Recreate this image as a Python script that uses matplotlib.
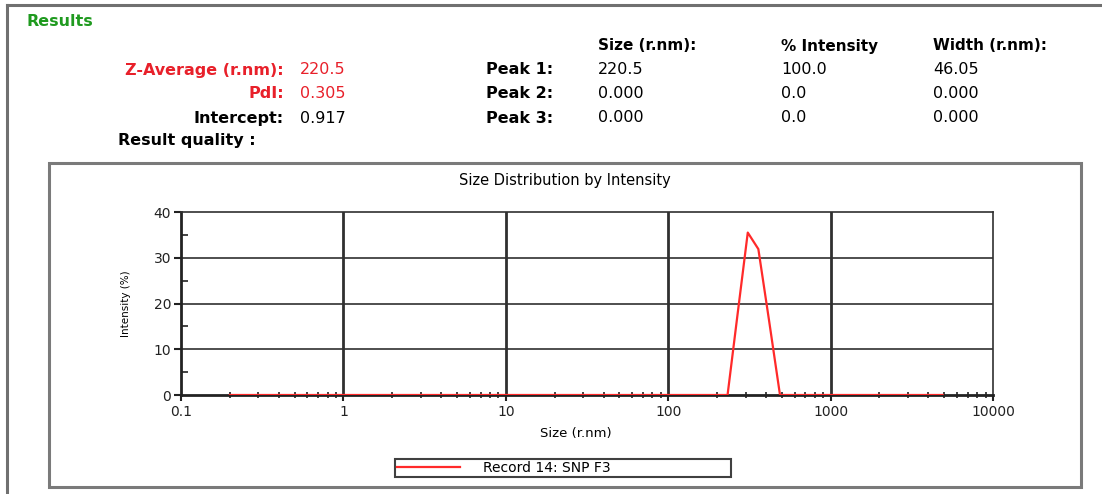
import matplotlib
matplotlib.use('Agg')
import matplotlib.pyplot as plt
from matplotlib.patches import Rectangle
from matplotlib.lines import Line2D
from matplotlib.ticker import FixedLocator, FixedFormatter, NullFormatter

# values
size_nm = [0.2, 232, 266, 309, 359, 417, 488, 4900]
intensity = [0.0, 0.0, 17.0, 35.5, 31.9, 16.5, 0.0, 0.0]

x_ticks = [0.1, 1, 10, 100, 1000, 10000]
x_tick_labels = ['0.1', '1', '10', '100', '1000', '10000']
y_ticks = [0, 10, 20, 30, 40]

left_labels = ['Z-Average (r.nm):', 'PdI:', 'Intercept:']
left_values = ['220.5', '0.305', '0.917']
peak_labels = ['Peak 1:', 'Peak 2:', 'Peak 3:']
peak_size = ['220.5', '0.000', '0.000']
peak_intensity = ['100.0', '0.0', '0.0']
peak_width = ['46.05', '0.000', '0.000']
column_headers = ['Size (r.nm):', '% Intensity', 'Width (r.nm):']

W, H = 1102, 494
RED = '#e8202a'
GREEN = '#1f9a1f'

plt.rcParams['font.family'] = ['DejaVu Sans']

fig = plt.figure(figsize=(W / 100, H / 100), dpi=100)
fig.patch.set_facecolor('white')


def fx(px):
    return px / W


def fy(py):
    return 1 - py / H


# outer frame (only left and top edges visible)
fig.add_artist(Line2D([fx(7), fx(7)], [fy(5), fy(494)], color='#707070', lw=2.2))
fig.add_artist(Line2D([fx(7), fx(1102)], [fy(5), fy(5)], color='#707070', lw=2.2))

# header block
fig.text(fx(27), fy(21), 'Results', color=GREEN, fontsize=11.5, fontweight='bold', va='center')

rows_y = [70, 94, 118]
label_colors = [RED, RED, 'black']
for lab, val, col, yy in zip(left_labels, left_values, label_colors, rows_y):
    fig.text(fx(284), fy(yy), lab, color=col, fontsize=11.5, fontweight='bold', ha='right', va='center')
    fig.text(fx(300), fy(yy), val, color=col, fontsize=11.5, va='center')
fig.text(fx(118), fy(141), 'Result quality :', fontsize=11.5, fontweight='bold', va='center')

col_x = [598, 781, 933]
for hdr, xx in zip(column_headers, col_x):
    fig.text(fx(xx), fy(46), hdr, fontsize=11, fontweight='bold', va='center')

for i, yy in enumerate(rows_y):
    fig.text(fx(553), fy(yy), peak_labels[i], fontsize=11.5, fontweight='bold', ha='right', va='center')
    for xx, col in zip(col_x, [peak_size, peak_intensity, peak_width]):
        fig.text(fx(xx), fy(yy - 1), col[i], fontsize=11.5, va='center')

# chart panel
panel = Rectangle((fx(49), fy(487)), fx(1081) - fx(49), fy(163) - fy(487),
                  transform=fig.transFigure, facecolor='white', edgecolor='#7a7a7a', lw=2.2, zorder=0)
fig.add_artist(panel)
fig.text(fx(565), fy(180), 'Size Distribution by Intensity', fontsize=10.5, ha='center', va='center')

ax = fig.add_axes([fx(181), fy(395), fx(993) - fx(181), fy(212) - fy(395)])
ax.set_xscale('log')
ax.set_xlim(0.1, 10000)
ax.set_ylim(0, 40)

for xv in x_ticks[1:-1]:
    ax.axvline(xv, color='#303030', lw=2.0, zorder=1)
for yv in y_ticks[1:-1]:
    ax.axhline(yv, color='#303030', lw=1.2, zorder=1)

ax.plot(size_nm, intensity, color='#ff2a2a', lw=1.6, zorder=3, label='Record 14: SNP F3')

for side in ['left', 'bottom']:
    ax.spines[side].set_color('#222222')
    ax.spines[side].set_linewidth(2.0)
for side in ['top', 'right']:
    ax.spines[side].set_color('#303030')
    ax.spines[side].set_linewidth(1.2)

ax.xaxis.set_major_locator(FixedLocator(x_ticks))
ax.xaxis.set_major_formatter(FixedFormatter(x_tick_labels))
minor_x = [m * 10.0 ** e for e in range(-1, 4) for m in range(2, 10)]
ax.xaxis.set_minor_locator(FixedLocator(minor_x))
ax.xaxis.set_minor_formatter(NullFormatter())
ax.set_yticks(y_ticks)
ax.yaxis.set_minor_locator(FixedLocator([5, 15, 25, 35]))

ax.tick_params(axis='x', which='major', direction='out', length=4, width=1.5, colors='#222222',
               labelsize=10, pad=3)
ax.tick_params(axis='x', which='minor', direction='inout', length=4, width=1.2, colors='#222222')
ax.tick_params(axis='y', which='major', direction='out', length=5, width=1.5, colors='#222222',
               labelsize=10, pad=2)
ax.tick_params(axis='y', which='minor', direction='in', length=5, width=1.2, colors='#222222')

ax.set_xlabel('Size (r.nm)', fontsize=9.5)
ax.xaxis.set_label_coords((576 - 181) / 812, -(427 - 395) / 183, transform=ax.transAxes)
ax.set_ylabel('Intensity (%)', fontsize=7.5)
ax.yaxis.set_label_coords(-(181 - 131) / 812, 0.5, transform=ax.transAxes)

fig.legend(loc='lower left', bbox_to_anchor=(fx(395), fy(477), fx(731) - fx(395), fy(461) - fy(477)),
           mode='expand', fontsize=10, handlelength=4.5, handletextpad=1.7, borderpad=0.15,
           borderaxespad=0, frameon=True, fancybox=False, edgecolor='#404040', framealpha=1)
leg = fig.legends[0]
leg.get_frame().set_linewidth(1.5)

fig.savefig('out.png', dpi=100)
